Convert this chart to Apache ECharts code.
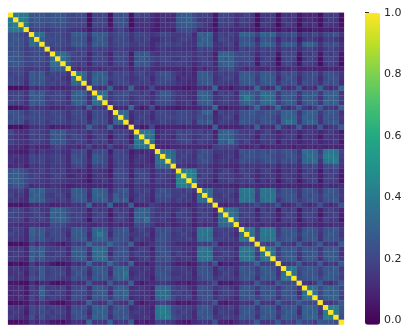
<!DOCTYPE html>
<html>
<head>
<meta charset="utf-8">
<style>
  html, body { margin: 0; padding: 0; background: #fff; }
  #chart { width: 416px; height: 336px; }
</style>
<script src="https://cdn.jsdelivr.net/npm/echarts@6/dist/echarts.min.js"></script>
</head>
<body>
<div id="chart"></div>
<script>
// lower triangle of the correlation matrix, read by eye, in hundredths. diagonal is 1
const lowerRows = [
  '',
  '40',
  '37 41',
  '38 40 37',
  '24 25 22 17',
  '25 27 24 19 35',
  '26 25 24 18 36 30',
  '22 24 21 16 21 22 23',
  '25 27 25 18 20 22 21 16',
  '27 25 24 19 22 21 23 18 33',
  '25 27 25 20 19 22 20 17 36 35',
  '21 22 20 16 16 17 18 14 27 28 27',
  '18 19 21 14 28 24 27 16 20 18 19 14',
  '21 18 19 14 27 25 28 19 17 19 16 11 38',
  '22 21 20 12 27 25 26 18 21 17 19 14 33 31',
  '3 3 4 6 14 11 14 13 9 11 9 11 16 15 13',
  '19 18 21 14 30 25 28 19 18 21 19 14 28 31 30 14',
  '18 21 19 14 27 28 26 17 21 19 20 12 30 28 26 11 35',
  '21 18 19 13 28 25 27 18 16 19 18 14 27 30 28 13 36 33',
  '3 4 5 8 17 14 16 13 9 11 11 14 14 17 11 31 14 16 14',
  '24 24 22 16 21 22 20 17 21 20 19 14 22 21 19 11 22 21 20 9',
  '22 25 24 19 23 21 22 18 19 22 21 14 19 20 21 9 21 22 20 11 32',
  '24 22 23 14 21 20 22 16 21 19 20 16 21 18 22 12 24 21 22 9 31 33',
  '3 4 3 7 14 13 16 12 7 9 8 9 14 13 14 33 17 14 13 34 12 11 9',
  '22 14 13 13 21 19 17 14 27 25 28 18 19 16 18 12 19 18 17 11 18 17 19 11',
  '17 14 13 11 19 17 19 14 25 27 25 16 21 19 17 9 16 19 18 6 17 19 16 6 37',
  '19 16 14 13 18 19 17 14 27 25 27 18 16 19 18 11 19 16 19 9 19 17 18 8 39 38',
  '13 11 11 8 14 11 11 9 16 19 17 12 14 11 13 20 11 14 11 20 12 11 14 20 35 36 35',
  '9 8 7 7 16 11 16 13 14 17 13 11 21 19 21 9 21 20 22 7 20 19 17 7 11 9 12 11',
  '13 14 13 11 21 17 19 16 18 19 17 11 24 22 21 9 28 24 22 11 21 19 20 8 14 16 13 9 35',
  '14 11 13 11 19 18 21 14 17 19 18 11 25 24 19 11 27 25 22 9 19 21 18 9 16 14 13 8 36 38',
  '11 11 14 8 16 14 17 13 17 16 17 11 18 19 18 8 19 18 19 8 17 19 16 9 14 11 14 11 30 33 32',
  '25 27 24 20 16 17 19 14 18 16 19 11 14 11 14 8 16 14 13 6 22 21 20 9 21 19 18 11 18 17 19 14',
  '27 28 27 22 17 19 16 13 17 19 17 11 11 14 13 6 14 16 14 8 21 22 19 8 18 21 19 11 17 19 16 14 42',
  '28 30 27 22 19 17 16 14 18 17 16 14 14 13 11 5 14 13 17 9 19 20 21 11 21 18 20 11 19 17 16 11 44 45',
  '22 24 25 18 11 13 14 11 14 13 11 8 9 11 11 8 11 11 9 8 16 17 13 9 16 14 13 11 14 13 14 11 39 41 38',
  '17 16 19 11 30 27 31 19 19 18 16 14 28 27 25 13 31 28 27 11 22 24 28 11 19 17 19 11 22 24 22 17 18 16 19 14',
  '19 14 16 11 28 30 28 17 16 19 18 11 27 28 26 11 30 31 28 14 30 22 25 11 16 19 17 11 24 22 24 17 17 19 16 11 35',
  '16 17 13 11 31 28 30 19 18 16 19 14 25 27 28 13 28 27 30 14 31 25 30 8 18 19 16 9 22 21 20 14 19 16 17 11 36 33',
  '5 5 4 6 11 11 13 11 8 9 11 11 14 13 14 33 11 14 13 33 9 11 11 30 8 9 11 17 14 11 13 11 11 11 8 11 17 16 19',
  '19 21 18 13 19 21 16 14 30 31 28 22 19 17 18 8 19 16 17 8 19 16 18 9 28 31 30 20 16 14 17 13 16 19 17 11 19 16 17 9',
  '21 18 17 14 16 19 18 13 31 28 30 22 17 19 16 9 17 19 18 6 16 19 17 8 31 30 27 18 14 16 17 11 19 17 16 11 17 19 16 8 35',
  '18 19 18 11 19 17 19 16 28 30 31 24 18 19 16 5 19 17 16 9 18 19 16 9 30 28 38 18 16 17 14 11 16 17 19 9 19 16 18 11 36 37',
  '14 13 11 11 14 13 11 11 22 21 22 16 14 13 14 11 11 13 14 9 14 11 13 9 22 20 22 16 11 11 14 9 11 13 14 8 14 11 13 11 30 31 32',
  '16 19 17 11 31 24 27 19 21 22 18 14 27 28 25 14 31 30 28 14 24 25 27 11 17 19 16 11 24 22 24 17 19 16 18 14 38 37 39 16 19 17 18 14',
  '19 17 16 11 30 25 28 16 22 21 19 11 28 27 26 11 30 42 30 11 25 24 25 14 16 17 19 9 22 25 22 14 17 19 16 11 39 38 36 14 17 19 16 11 36',
  '16 17 14 11 28 22 27 19 18 21 20 14 25 27 28 13 28 31 30 17 27 25 24 11 19 16 14 11 24 24 22 16 17 16 19 13 37 36 38 17 19 17 18 14 38 35',
  '3 4 3 5 18 11 16 13 11 8 6 11 18 16 17 34 22 20 21 33 22 21 18 31 11 8 11 14 21 22 18 14 11 11 9 11 18 16 17 22 8 11 11 13 17 19 18',
  '16 14 17 9 31 24 30 19 18 17 19 11 27 28 25 14 35 33 33 14 22 25 24 11 16 19 17 8 24 25 22 16 17 14 16 11 37 38 36 16 19 17 18 11 38 39 37 19',
  '14 17 16 11 28 25 31 17 16 19 18 11 28 27 27 11 33 36 32 11 24 24 25 14 19 17 16 11 22 24 25 14 19 16 13 11 38 36 37 14 16 19 17 14 39 37 36 16 37',
  '17 16 13 9 32 22 28 19 19 17 16 14 25 27 28 13 32 33 35 16 25 22 24 11 14 16 19 11 25 22 24 17 14 16 17 11 36 37 38 17 19 16 17 11 37 38 39 18 36 38',
  '3 5 3 5 17 9 14 11 6 3 4 7 14 11 14 32 16 14 17 33 19 16 14 31 9 11 8 11 19 18 17 11 8 9 6 8 17 19 14 25 6 9 8 11 16 17 19 31 16 17 18',
  '14 17 13 11 22 19 27 18 21 19 18 11 24 22 24 14 27 28 25 14 30 31 32 14 16 14 17 11 24 22 25 17 16 17 14 11 25 24 22 11 19 16 18 13 27 25 24 16 28 27 25 14',
  '13 14 16 8 21 16 28 17 19 21 20 11 22 24 22 11 25 27 28 11 31 30 37 11 14 16 13 11 25 24 22 14 14 16 17 9 24 25 24 11 16 19 17 11 25 24 27 17 25 28 27 14 36',
  '17 14 14 11 24 19 27 18 21 19 16 14 24 22 25 14 27 25 27 16 28 31 33 13 17 16 14 8 22 25 24 16 17 14 16 11 22 24 25 14 19 17 18 14 24 27 25 13 27 25 28 16 38 37',
  '5 5 3 3 12 6 11 11 5 3 5 8 14 11 12 27 14 13 11 28 14 16 14 30 9 6 9 11 14 16 13 11 8 9 6 8 14 13 16 22 6 8 6 9 14 16 13 27 17 14 13 27 21 19 22',
  '11 11 14 7 19 14 30 17 18 16 19 9 22 21 24 11 27 28 25 14 27 30 28 12 14 16 13 9 35 32 33 20 17 19 14 11 24 25 22 14 18 19 16 11 25 27 24 16 27 24 25 14 25 27 24 14',
  '9 12 11 6 17 16 31 19 16 19 17 11 21 22 22 14 25 27 28 11 30 28 32 14 16 14 13 11 33 36 32 18 19 16 17 9 25 22 24 11 17 19 18 14 27 24 25 13 24 25 27 17 27 24 25 11 36',
  '11 9 14 8 21 14 27 16 19 17 16 9 24 22 20 11 28 25 27 16 28 27 30 11 14 13 16 9 32 33 35 22 16 17 19 11 22 24 25 14 19 17 16 11 24 25 27 18 25 27 24 14 24 25 27 16 35 37',
  '3 4 4 6 14 9 14 11 6 4 3 8 14 11 13 31 16 13 14 28 16 14 13 28 9 6 9 11 16 19 14 11 6 8 6 8 14 17 16 24 8 6 9 9 16 14 13 28 14 16 13 27 18 16 19 27 21 19 22',
  '17 14 16 9 22 17 24 17 19 18 16 9 24 22 25 14 30 28 31 14 25 27 24 11 14 16 13 9 38 41 37 22 19 17 18 14 25 27 24 13 17 16 19 13 25 24 27 14 27 28 25 13 27 25 28 14 30 31 28 16',
  '14 17 14 7 21 17 22 19 16 19 18 11 25 24 22 11 28 30 28 16 27 24 25 14 17 14 13 11 39 42 38 21 16 19 17 11 27 24 25 11 19 17 16 11 24 27 25 16 25 27 28 17 25 28 27 11 31 28 30 14 41',
  '17 14 13 9 24 14 24 16 19 17 16 9 22 24 24 14 31 28 30 13 24 25 27 16 13 14 16 9 37 39 41 24 19 16 17 11 24 25 27 14 16 19 17 14 27 25 24 13 28 25 27 14 28 27 25 17 28 30 31 18 42 39',
  '3 3 4 6 14 9 14 11 6 5 3 8 14 13 11 33 14 16 14 30 13 16 14 28 6 9 6 8 19 17 16 14 8 6 5 11 14 16 13 24 9 8 6 11 16 14 17 28 14 13 16 27 16 19 17 27 19 21 16 27 24 25 22'
]
const barTicks = [0, 0.2, 0.4, 0.6, 0.8, 1]
const barMin = -0.014 // the colour bar runs a little below its 0.0 tick
const viridis = ['#440154', '#482475', '#414487', '#355f8d', '#2a788e', '#21918c', '#22a884', '#44bf70', '#7ad151', '#bddf26', '#fde725']

const indexLabels = lowerRows.map((_, i) => String(i))
const cells = []
lowerRows.forEach((row, i) => {
  const vals = row ? row.split(' ').map(Number) : []
  vals.forEach((v, j) => {
    cells.push([j, i, v / 100])
    cells.push([i, j, v / 100])
  })
  cells.push([i, i, 1])
})

const chart = echarts.init(document.getElementById('chart'), null, { renderer: 'canvas' })
chart.setOption({
  animation: false,
  backgroundColor: '#fff',
  grid: [
    { left: 8, top: 12.7, width: 336, height: 312 },
    { left: 365, top: 12.7, width: 15, height: 307.7 }
  ],
  xAxis: [
    { type: 'category', data: indexLabels, show: false, gridIndex: 0 },
    { type: 'value', show: false, gridIndex: 1 }
  ],
  yAxis: [
    { type: 'category', data: indexLabels, inverse: true, show: false, gridIndex: 0 },
    {
      type: 'value',
      gridIndex: 1,
      position: 'right',
      min: 0,
      max: 1,
      interval: barTicks[1],
      splitLine: { show: false },
      axisLine: { show: false },
      axisTick: { show: true, length: 4, lineStyle: { color: '#262626', width: 1 } },
      axisLabel: {
        color: '#262626',
        fontFamily: 'DejaVu Sans',
        fontSize: 11,
        margin: 4,
        formatter: v => v.toFixed(1)
      }
    }
  ],
  visualMap: {
    type: 'continuous',
    seriesIndex: 0,
    dimension: 2,
    min: barMin,
    max: 1,
    left: 365,
    top: 12.7,
    itemWidth: 15,
    itemHeight: 312,
    padding: 0,
    calculable: false,
    hoverLink: false,
    inRange: { color: viridis }
  },
  series: [{
    type: 'custom',
    coordinateSystem: 'cartesian2d',
    xAxisIndex: 0,
    yAxisIndex: 0,
    silent: true,
    progressive: 0,
    encode: { x: 0, y: 1 },
    data: cells,
    // plain rects, not heatmap: fractional edges leave the faint seams the original has
    renderItem (params, api) {
      const p = api.coord([api.value(0), api.value(1)])
      const size = api.size([1, 1])
      const pad = 0.12
      return {
        type: 'rect',
        shape: {
          x: p[0] - size[0] / 2 - pad,
          y: p[1] - size[1] / 2 - pad,
          width: size[0] + pad * 2,
          height: size[1] + pad * 2
        },
        style: { fill: api.visual('color') }
      }
    }
  }]
})
</script>
</body>
</html>
